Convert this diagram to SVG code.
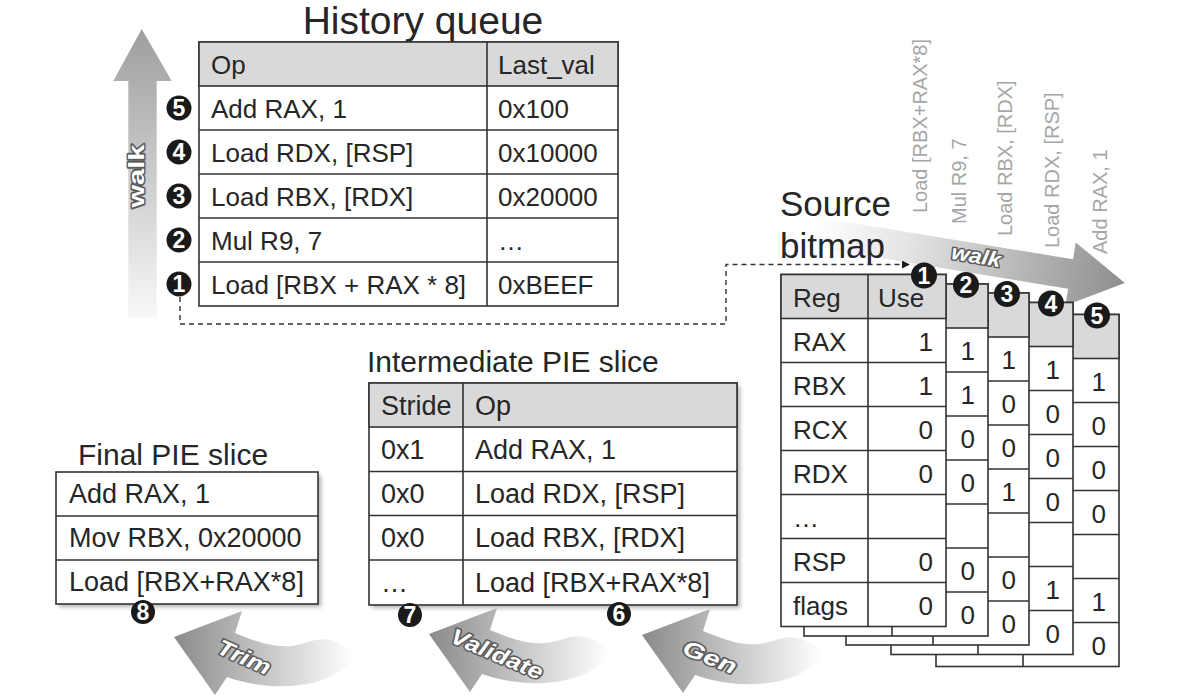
<svg xmlns="http://www.w3.org/2000/svg" width="1196" height="698" viewBox="0 0 1196 698">
<defs>
<style>
text { font-family: "Liberation Sans", Arial, sans-serif; fill: #262626; }
.f26 { font-size: 26px; }
.f27 { font-size: 27px; }
.cell { fill: #fff; stroke: #333; stroke-width: 1.6; }
.hdr { fill: #d9d9d9; stroke: #333; stroke-width: 1.6; }
.ln { stroke: #333; stroke-width: 1.6; fill: none; }
.end { text-anchor: end; }
.nc { fill: #1a1a1a; }
.nt { fill: #fff; font-weight: bold; font-size: 23px; text-anchor: middle; }
.lbl { font-size: 20px; fill: #a6a6a6; }
.wa { fill: #fff; stroke: #5c5c5c; stroke-width: 3; paint-order: stroke; font-weight: bold; stroke-linejoin: round; }
.dash { stroke: #333; stroke-width: 1.4; fill: none; stroke-dasharray: 5 4; }
</style>
<linearGradient id="gUp" x1="0" y1="0" x2="0" y2="1">
<stop offset="0" stop-color="#9e9e9e"/>
<stop offset="1" stop-color="#f8f8f8"/>
</linearGradient>
<linearGradient id="gWalk" x1="0" y1="0" x2="1" y2="0">
<stop offset="0" stop-color="#ffffff"/>
<stop offset="0.3" stop-color="#e4e4e4"/>
<stop offset="1" stop-color="#8e8e8e"/>
</linearGradient>
<linearGradient id="gCurve" x1="0" y1="0" x2="1" y2="0">
<stop offset="0" stop-color="#8a8a8a"/>
<stop offset="0.35" stop-color="#b4b4b4"/>
<stop offset="1" stop-color="#ffffff"/>
</linearGradient>
<filter id="sh" x="-10%" y="-10%" width="125%" height="130%">
<feDropShadow dx="3" dy="3" stdDeviation="2" flood-color="#000" flood-opacity="0.3"/>
</filter>
<marker id="ah" viewBox="0 0 10 10" refX="9" refY="5" markerWidth="8" markerHeight="8" orient="auto" markerUnits="userSpaceOnUse">
<path d="M0,0 L10,5 L0,10 Z" fill="#1a1a1a"/>
</marker>
<path id="curveArrow" d="M174,637 L242,611 L235,633 C255,641 272,648 292,646 C306,644 316,637 330,640 C342,643 350,650 354,657 C350,667 332,678 312,683 C290,688 258,688 227,677 L215,695 Z"/>
</defs>

<!-- walk arrows -->
<g id="walkArrowLeft">
<polygon points="141.7,29 171.7,81 156.7,81 156.7,318 128.3,318 128.3,81 113.3,81" fill="url(#gUp)"/>
<text class="wa" transform="translate(144,176) rotate(-90)" text-anchor="middle" font-size="22" textLength="63" lengthAdjust="spacingAndGlyphs">walk</text>
</g>
<g id="walkArrowRight">
<polygon transform="translate(815,232) rotate(9.34)" points="0,-15 259,-15 259,-32 314,0 259,32 259,15 0,15" fill="url(#gWalk)"/>
<text class="wa" transform="translate(975,263) rotate(10)" text-anchor="middle" font-size="21" font-style="italic" textLength="50" lengthAdjust="spacingAndGlyphs">walk</text>
</g>

<!-- History queue -->
<g id="historyQueue">
<text x="423" y="34" text-anchor="middle" font-size="39">History queue</text>
<rect class="cell" x="199" y="42" width="419" height="264"/>
<rect class="hdr" x="199" y="42" width="419" height="44"/>
<path class="ln" d="M199,130 H618 M199,174 H618 M199,218 H618 M199,262 H618 M487,42 V306"/>
<g class="f26">
<text x="211" y="74">Op</text><text x="498" y="74">Last_val</text>
<text x="211" y="118">Add RAX, 1</text><text x="498" y="118">0x100</text>
<text x="211" y="162">Load RDX, [RSP]</text><text x="498" y="162">0x10000</text>
<text x="211" y="206">Load RBX, [RDX]</text><text x="498" y="206">0x20000</text>
<text x="211" y="250">Mul R9, 7</text><text x="498" y="250">…</text>
<text x="211" y="294">Load [RBX + RAX * 8]</text><text x="498" y="294">0xBEEF</text>
</g>
<g>
<circle class="nc" cx="179" cy="108" r="12.5"/><text class="nt" x="179" y="116">5</text>
<circle class="nc" cx="179" cy="152" r="12.5"/><text class="nt" x="179" y="160">4</text>
<circle class="nc" cx="179" cy="196" r="12.5"/><text class="nt" x="179" y="204">3</text>
<circle class="nc" cx="179" cy="240" r="12.5"/><text class="nt" x="179" y="248">2</text>
<circle class="nc" cx="179" cy="284" r="12.5"/><text class="nt" x="179" y="292">1</text>
</g>
</g>

<!-- connectors -->
<g id="connectors">
<path class="dash" d="M180,297 V324 H726 V264.5 H909" marker-end="url(#ah)"/>
</g>

<!-- Source bitmap -->
<g id="sourceTitle">
<text x="780" y="216" font-size="35">Source</text>
<text x="780" y="258" font-size="35">bitmap</text>
</g>
<g id="opLabels">
<text class="lbl" transform="translate(927,213) rotate(-90)">Load [RBX+RAX*8]</text>
<text class="lbl" transform="translate(966,224) rotate(-90)">Mul R9, 7</text>
<text class="lbl" transform="translate(1012,236) rotate(-90)">Load RBX, [RDX]</text>
<text class="lbl" transform="translate(1059,248) rotate(-90)">Load RDX, [RSP]</text>
<text class="lbl" transform="translate(1107,254) rotate(-90)">Add RAX, 1</text>
</g>

<g id="bitmap5" transform="translate(936,314.5)" class="f26">
<rect class="cell" x="0" y="0" width="183" height="352"/>
<rect class="hdr" x="0" y="0" width="183" height="44"/>
<path class="ln" d="M0,88 H183 M0,132 H183 M0,176 H183 M0,220 H183 M0,264 H183 M0,308 H183 M87,0 V352"/>
<text class="end" x="170" y="76">1</text><text class="end" x="170" y="120">0</text><text class="end" x="170" y="164">0</text><text class="end" x="170" y="208">0</text><text class="end" x="170" y="296">1</text><text class="end" x="170" y="340">0</text>
<circle class="nc" cx="161" cy="1" r="13"/><text class="nt" x="161" y="9">5</text>
</g>
<g id="bitmap4" transform="translate(891,302.5)" class="f26">
<rect class="cell" x="0" y="0" width="182" height="352"/>
<rect class="hdr" x="0" y="0" width="182" height="44"/>
<path class="ln" d="M0,88 H182 M0,132 H182 M0,176 H182 M0,220 H182 M0,264 H182 M0,308 H182 M87,0 V352"/>
<text class="end" x="169" y="76">1</text><text class="end" x="169" y="120">0</text><text class="end" x="169" y="164">0</text><text class="end" x="169" y="208">0</text><text class="end" x="169" y="296">1</text><text class="end" x="169" y="340">0</text>
<circle class="nc" cx="160" cy="1" r="13"/><text class="nt" x="160" y="9">4</text>
</g>
<g id="bitmap3" transform="translate(846,293)" class="f26">
<rect class="cell" x="0" y="0" width="183" height="352"/>
<rect class="hdr" x="0" y="0" width="183" height="44"/>
<path class="ln" d="M0,88 H183 M0,132 H183 M0,176 H183 M0,220 H183 M0,264 H183 M0,308 H183 M87,0 V352"/>
<text class="end" x="170" y="76">1</text><text class="end" x="170" y="120">0</text><text class="end" x="170" y="164">0</text><text class="end" x="170" y="208">1</text><text class="end" x="170" y="296">0</text><text class="end" x="170" y="340">0</text>
<circle class="nc" cx="161" cy="1" r="13"/><text class="nt" x="161" y="9">3</text>
</g>
<g id="bitmap2" transform="translate(804,284)" class="f26">
<rect class="cell" x="0" y="0" width="184" height="352"/>
<rect class="hdr" x="0" y="0" width="184" height="44"/>
<path class="ln" d="M0,88 H184 M0,132 H184 M0,176 H184 M0,220 H184 M0,264 H184 M0,308 H184 M88,0 V352"/>
<text class="end" x="171" y="76">1</text><text class="end" x="171" y="120">1</text><text class="end" x="171" y="164">0</text><text class="end" x="171" y="208">0</text><text class="end" x="171" y="296">0</text><text class="end" x="171" y="340">0</text>
<circle class="nc" cx="162" cy="1" r="13"/><text class="nt" x="162" y="9">2</text>
</g>
<g id="bitmap1" transform="translate(781,274.5)" class="f26">
<rect class="cell" x="0" y="0" width="165" height="352"/>
<rect class="hdr" x="0" y="0" width="165" height="44"/>
<path class="ln" d="M0,88 H165 M0,132 H165 M0,176 H165 M0,220 H165 M0,264 H165 M0,308 H165 M87,0 V352"/>
<text x="12" y="32">Reg</text><text x="97" y="32">Use</text>
<text x="12" y="76">RAX</text><text x="12" y="120">RBX</text><text x="12" y="164">RCX</text><text x="12" y="208">RDX</text><text x="12" y="252">…</text><text x="12" y="296">RSP</text><text x="12" y="340">flags</text>
<text class="end" x="152" y="76">1</text><text class="end" x="152" y="120">1</text><text class="end" x="152" y="164">0</text><text class="end" x="152" y="208">0</text><text class="end" x="152" y="296">0</text><text class="end" x="152" y="340">0</text>
<circle class="nc" cx="143" cy="1" r="13"/><text class="nt" x="143" y="9">1</text>
</g>

<!-- Intermediate PIE slice -->
<g id="intermediate">
<text x="367" y="372" font-size="30">Intermediate PIE slice</text>
<rect x="369" y="383" width="368" height="222" fill="#fff" filter="url(#sh)"/>
<rect class="cell" x="369" y="383" width="368" height="222"/>
<rect class="hdr" x="369" y="383" width="368" height="44"/>
<path class="ln" d="M369,471.5 H737 M369,515.5 H737 M369,560 H737 M463,383 V605"/>
<g class="f27">
<text x="381" y="415">Stride</text><text x="475" y="415">Op</text>
<text x="381" y="459">0x1</text><text x="475" y="459">Add RAX, 1</text>
<text x="381" y="503">0x0</text><text x="475" y="503">Load RDX, [RSP]</text>
<text x="381" y="547">0x0</text><text x="475" y="547">Load RBX, [RDX]</text>
<text x="381" y="592">…</text><text x="475" y="592">Load [RBX+RAX*8]</text>
</g>
<circle class="nc" cx="410" cy="615" r="12"/><text class="nt" x="410" y="623">7</text>
<circle class="nc" cx="619" cy="614" r="12"/><text class="nt" x="619" y="622">6</text>
</g>

<!-- Final PIE slice -->
<g id="final">
<text x="78" y="465" font-size="30">Final PIE slice</text>
<rect x="56" y="472" width="262" height="132" fill="#fff" filter="url(#sh)"/>
<rect class="cell" x="56" y="472" width="262" height="132"/>
<path class="ln" d="M56,516 H318 M56,560 H318"/>
<g class="f27">
<text x="69" y="503">Add RAX, 1</text>
<text x="69" y="547">Mov RBX, 0x20000</text>
<text x="69" y="591">Load [RBX+RAX*8]</text>
</g>
<circle class="nc" cx="143" cy="612" r="12"/><text class="nt" x="143" y="620">8</text>
</g>

<!-- curved step arrows -->
<g id="trimArrow">
<use href="#curveArrow" fill="url(#gCurve)"/>
<text class="wa" transform="translate(241,664) rotate(24)" text-anchor="middle" font-size="22" font-style="italic" textLength="56" lengthAdjust="spacingAndGlyphs">Trim</text>
</g>
<g id="validateArrow">
<use href="#curveArrow" transform="translate(255,-3)" fill="url(#gCurve)"/>
<text class="wa" transform="translate(494,661) rotate(23)" text-anchor="middle" font-size="22" font-style="italic" textLength="98" lengthAdjust="spacingAndGlyphs">Validate</text>
</g>
<g id="genArrow">
<use href="#curveArrow" transform="translate(468,-2)" fill="url(#gCurve)"/>
<text class="wa" transform="translate(707,664) rotate(22)" text-anchor="middle" font-size="22" font-style="italic" textLength="56" lengthAdjust="spacingAndGlyphs">Gen</text>
</g>
</svg>
